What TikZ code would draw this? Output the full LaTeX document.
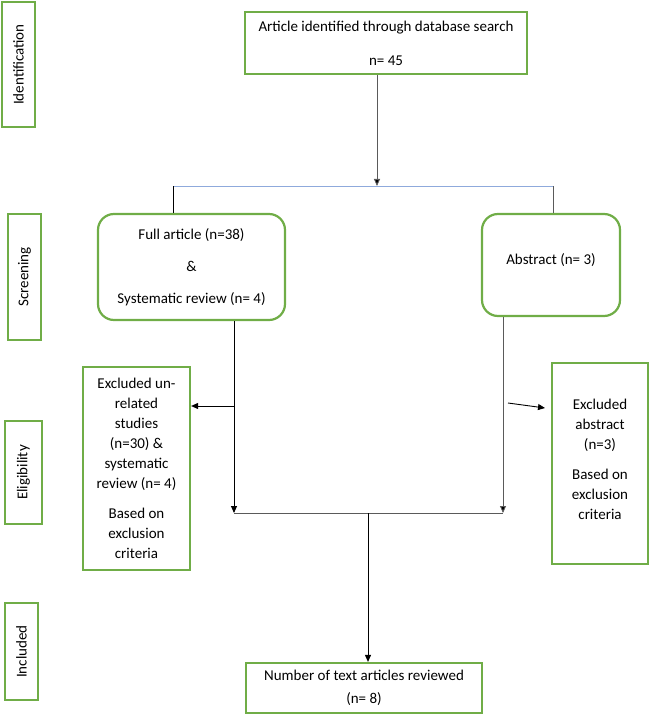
\documentclass[tikz,border=0pt]{standalone}
\usepackage{fontspec}
\setmainfont{Carlito}
\usetikzlibrary{arrows.meta}
\definecolor{boxgreen}{RGB}{112,173,71}
\definecolor{linkblue}{RGB}{143,170,220}
\definecolor{linegray}{RGB}{90,90,90}
\begin{document}
\begin{tikzpicture}[x=1pt,y=-1pt,
  gbox/.style={draw=boxgreen,line width=2.2pt,inner sep=0pt,align=center,
    font=\fontsize{15}{20}\selectfont},
  rbox/.style={gbox,rounded corners=16pt},
  txt/.style={inner sep=0pt,align=center,font=\fontsize{15}{20}\selectfont},
  conn/.style={draw=linegray,line width=0.9pt},
  arr/.style={conn,-{Triangle[length=7pt,width=6pt,fill=black]}}]
\useasboundingbox (0,0) rectangle (651,714);
% stage labels
\node[gbox,minimum width=33pt,minimum height=125pt] (ident) at (18.5,64.5) {};
\node[rotate=90,font=\fontsize{15}{18}\selectfont] (identt) at (ident.center) {Identification};
\node[gbox,minimum width=33pt,minimum height=126pt] (scr) at (24.5,277) {};
\node[rotate=90,font=\fontsize{15}{18}\selectfont] (scrt) at (scr.center) {Screening};
\node[gbox,minimum width=37pt,minimum height=103pt] (elig) at (23.5,472.5) {};
\node[rotate=90,font=\fontsize{15}{18}\selectfont] (eligt) at (elig.center) {Eligibility};
\node[gbox,minimum width=33pt,minimum height=97pt] (incl) at (21.5,651.5) {};
\node[rotate=90,font=\fontsize{15}{18}\selectfont] (inclt) at (incl.center) {Included};
% flow boxes
\node[gbox,minimum width=282pt,minimum height=62pt] (main) at (386,43)
  {Article identified through database search\\[14pt]n= 45};
\node[rbox,minimum width=187pt,minimum height=106pt] (full) at (191.5,267)
  {Full article (n=38)\\[12pt]\&\\[12pt]Systematic review (n= 4)};
\node[rbox,minimum width=138pt,minimum height=102pt] (abs) at (551,265) {};
\node[txt] (abst) at (551,260) {Abstract (n= 3)};
\node[gbox,minimum width=107pt,minimum height=203pt] (exl) at (136.5,468.5)
  {Excluded un-\\related\\studies\\(n=30) \&\\systematic\\review (n= 4)\\[10pt]Based on\\exclusion\\criteria};
\node[gbox,minimum width=96pt,minimum height=201pt] (exr) at (600,463.5) {};
\node[txt] (exrt) at (600,459.5)
  {Excluded\\abstract\\(n=3)\\[10pt]Based on\\exclusion\\criteria};
\node[gbox,minimum width=236pt,minimum height=50pt] (final) at (364,688)
  {Number of text articles reviewed\\[3pt](n= 8)};
% connectors
\coordinate (top) at (377,186);
\coordinate (hl) at (173,186);
\coordinate (hr) at (553,186);
\draw[arr] (main.south -| top) -- (top);
\draw[draw=linkblue,line width=1pt] (hl) -- (hr);
\draw[conn,draw=black] (hl) -- (hl |- full.north);
\draw[conn] (hr) -- (hr |- abs.north);
\coordinate (bl) at (234,513);
\coordinate (br) at (503,513);
\coordinate (lb) at (234,406);
\draw[arr,draw=black] (full.south -| bl) -- (bl);
\draw[arr,draw=black] (lb) -- (lb -| exl.east);
\draw[arr] (abs.south -| br) -- (br);
\coordinate (sl) at (508,403);
\coordinate (sr) at (545,408);
\draw[arr,draw=black] (sl) -- (sr);
\draw[conn] (bl) -- (br);
\coordinate (bm) at (368,513);
\draw[arr,draw=black] (bm) -- (bm |- final.north);
\end{tikzpicture}
\end{document}
